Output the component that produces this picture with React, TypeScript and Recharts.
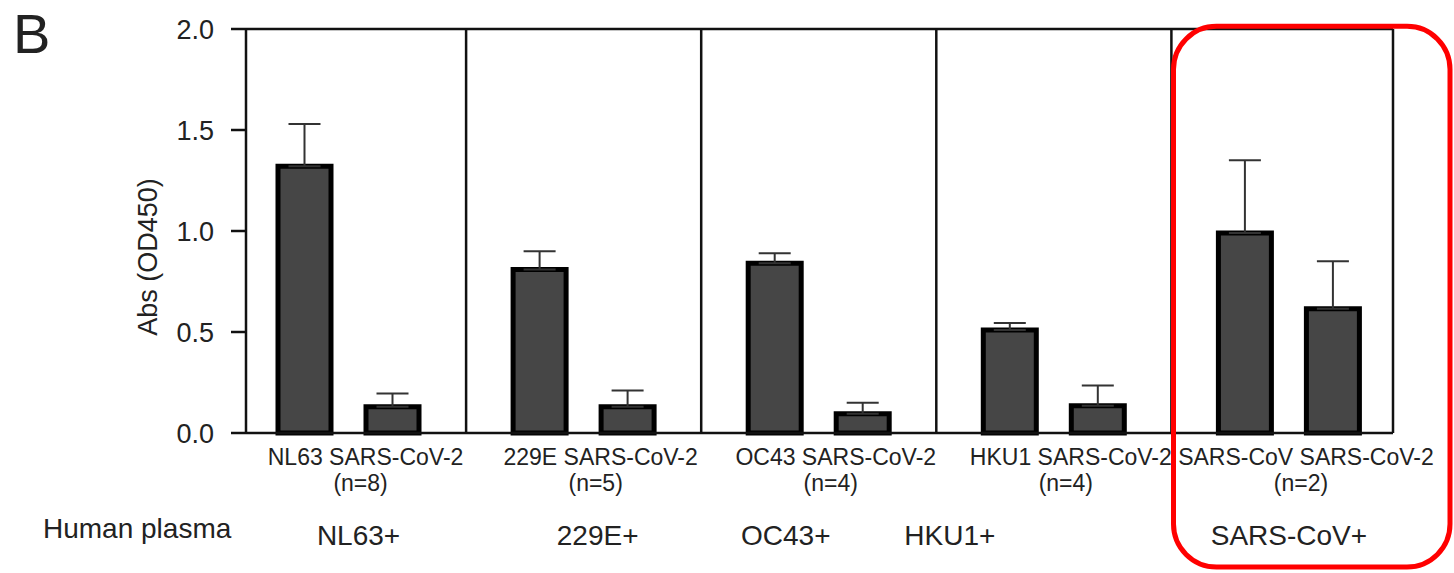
import React from 'react';
import { BarChart, Bar, XAxis, YAxis, ErrorBar, ReferenceLine } from 'recharts';

// groups of plasma donors and the antigen each was tested against
const groups = ['NL63', '229E', 'OC43', 'HKU1', 'SARS-CoV'];
const plasmaGroups = ['NL63+', '229E+', 'OC43+', 'HKU1+', 'SARS-CoV+'];
const sampleSizes = ['(n=8)', '(n=5)', '(n=4)', '(n=4)', '(n=2)'];

// mean absorbance and upper SD
const homologousAbs = [1.32, 0.81, 0.84, 0.51, 0.99];
const homologousSd = [0.21, 0.09, 0.05, 0.035, 0.36];
const sars2Abs = [0.13, 0.13, 0.095, 0.135, 0.615];
const sars2Sd = [0.065, 0.08, 0.055, 0.1, 0.235];

const yTicks = [0, 0.5, 1.0, 1.5, 2.0];

const data = groups.map((g, i) => ({
  group: g,
  hom: homologousAbs[i],
  homErr: [0, homologousSd[i]],
  sars2: sars2Abs[i],
  sars2Err: [0, sars2Sd[i]],
}));

const FONT = '"Liberation Sans", Arial, sans-serif';
const INK = '#111';
const TEXT = '#222';

// plasma labels are not quite centred under their groups in the original
const plasmaLabelDx = [10, 14, -33, -104, 0];

const GroupTick = (props: any) => {
  const { x, y, payload } = props;
  const i = payload.index;
  return (
    <g fontFamily={FONT} fill={TEXT}>
      <text x={x + 17} y={y + 32} textAnchor="middle" fontSize={23}>
        {`${groups[i]} SARS-CoV-2`}
      </text>
      <text x={x + 12} y={y + 58} textAnchor="middle" fontSize={23}>
        {sampleSizes[i]}
      </text>
      <text x={x + plasmaLabelDx[i]} y={y + 112} textAnchor="middle" fontSize={28}>
        {plasmaGroups[i]}
      </text>
    </g>
  );
};

const App: React.FC = () => {
  return (
    <div style={{ position: 'absolute', left: 0, top: 0, width: 1454, height: 573, background: '#fff' }}>
      <BarChart
        width={1454}
        height={573}
        data={data}
        margin={{ top: 29, right: 60, bottom: 0, left: 146 }}
        barGap={35}
        barSize={53}
      >
        <XAxis
          dataKey="group"
          height={140}
          padding={{ left: -15, right: -13.5 }}
          interval={0}
          tickLine={false}
          tickSize={0}
          tickMargin={0}
          axisLine={{ stroke: INK, strokeWidth: 2.5 }}
          tick={<GroupTick />}
        />
        <YAxis
          domain={[0, 2]}
          ticks={yTicks}
          width={100}
          tickSize={15}
          tickMargin={17}
          tickFormatter={(v: number) => v.toFixed(1)}
          axisLine={{ stroke: INK, strokeWidth: 2.5 }}
          tickLine={{ stroke: INK, strokeWidth: 2.5 }}
          tick={{ fontSize: 27, fill: TEXT, fontFamily: FONT }}
        />
        <YAxis
          yAxisId="r"
          orientation="right"
          domain={[0, 2]}
          width={1}
          tick={false}
          tickLine={false}
          axisLine={{ stroke: INK, strokeWidth: 2.5 }}
        />
        <ReferenceLine y={2} stroke={INK} strokeWidth={2.5} />
        {/* dividers at the start of every group band but the first */}
        {groups.slice(1).map((g) => (
          <ReferenceLine key={g} x={g} position="start" stroke={INK} strokeWidth={2.5} />
        ))}
        <Bar dataKey="hom" fill="#464646" stroke="#000" strokeWidth={5} isAnimationActive={false}>
          <ErrorBar dataKey="homErr" width={16} stroke="#333" strokeWidth={2} direction="y" />
        </Bar>
        <Bar dataKey="sars2" fill="#464646" stroke="#000" strokeWidth={5} isAnimationActive={false}>
          <ErrorBar dataKey="sars2Err" width={16} stroke="#333" strokeWidth={2} direction="y" />
        </Bar>
      </BarChart>

      <svg
        width={1454}
        height={573}
        style={{ position: 'absolute', left: 0, top: 0, pointerEvents: 'none' }}
        fontFamily={FONT}
      >
        <text x={13} y={53} fontSize={56} fill={TEXT}>B</text>
        <text transform="translate(157,257) rotate(-90)" textAnchor="middle" fontSize={27} fill={TEXT}>
          Abs (OD450)
        </text>
        <text x={43} y={538} fontSize={28} fill={TEXT}>Human plasma</text>
        <rect x={1173.5} y={26.3} width={276.5} height={540.7} rx={43} fill="none" stroke="#ff0000" strokeWidth={5} />
      </svg>
    </div>
  );
};

export default App;
